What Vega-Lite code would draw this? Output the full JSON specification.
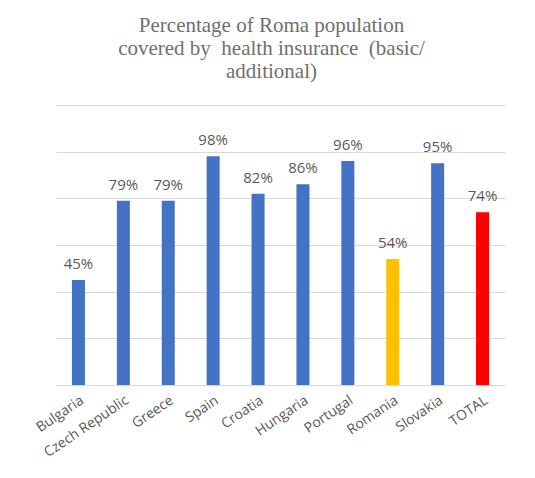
{
  "$schema": "https://vega.github.io/schema/vega-lite/v6.json",
  "width": 449,
  "height": 280,
  "autosize": {"type": "none"},
  "padding": {"left": 56, "top": 105, "right": 30, "bottom": 93},
  "background": "white",
  "title": {
    "text": ["Percentage of Roma population", "covered by \u00a0health insurance \u00a0(basic/", "additional)"],
    "font": "Liberation Serif",
    "fontSize": 21,
    "fontWeight": "normal",
    "color": "#6f6f6f",
    "lineHeight": 23,
    "anchor": "middle",
    "dx": -9,
    "offset": 23
  },
  "data": {
    "values": [
      {"country": "Bulgaria", "value": 0.45, "group": "country"},
      {"country": "Czech Republic", "value": 0.79, "group": "country"},
      {"country": "Greece", "value": 0.79, "group": "country"},
      {"country": "Spain", "value": 0.98, "group": "country"},
      {"country": "Croatia", "value": 0.82, "group": "country"},
      {"country": "Hungaria", "value": 0.86, "group": "country"},
      {"country": "Portugal", "value": 0.96, "group": "country"},
      {"country": "Romania", "value": 0.54, "group": "romania"},
      {"country": "Slovakia", "value": 0.95, "group": "country"},
      {"country": "TOTAL", "value": 0.74, "group": "total"}
    ]
  },
  "encoding": {
    "x": {
      "field": "country",
      "type": "nominal",
      "sort": null,
      "title": null,
      "scale": {"paddingInner": 0.71, "paddingOuter": 0.355},
      "axis": {
        "labelAngle": -34,
        "labelColor": "#595959",
        "labelFont": "Open Sans",
        "labelFontSize": 14,
        "ticks": false,
        "domain": false,
        "labelPadding": 8
      }
    },
    "y": {
      "field": "value",
      "type": "quantitative",
      "title": null,
      "scale": {"domain": [0, 1.2]},
      "axis": {
        "values": [0, 0.2, 0.4, 0.6, 0.8, 1.0, 1.2],
        "labels": false,
        "ticks": false,
        "domain": false,
        "grid": true,
        "gridColor": "#d9d9d9",
        "gridWidth": 1.2
      }
    }
  },
  "layer": [
    {
      "mark": {"type": "bar"},
      "encoding": {
        "color": {
          "field": "group",
          "type": "nominal",
          "scale": {"domain": ["country", "romania", "total"], "range": ["#4472C4", "#FFC000", "#FF0000"]},
          "legend": null
        }
      }
    },
    {
      "mark": {"type": "text", "baseline": "bottom", "dy": -8, "font": "Open Sans", "fontSize": 15, "color": "#595959"},
      "encoding": {
        "text": {"field": "value", "type": "quantitative", "format": ".0%"}
      }
    }
  ],
  "config": {"view": {"stroke": null}}
}
